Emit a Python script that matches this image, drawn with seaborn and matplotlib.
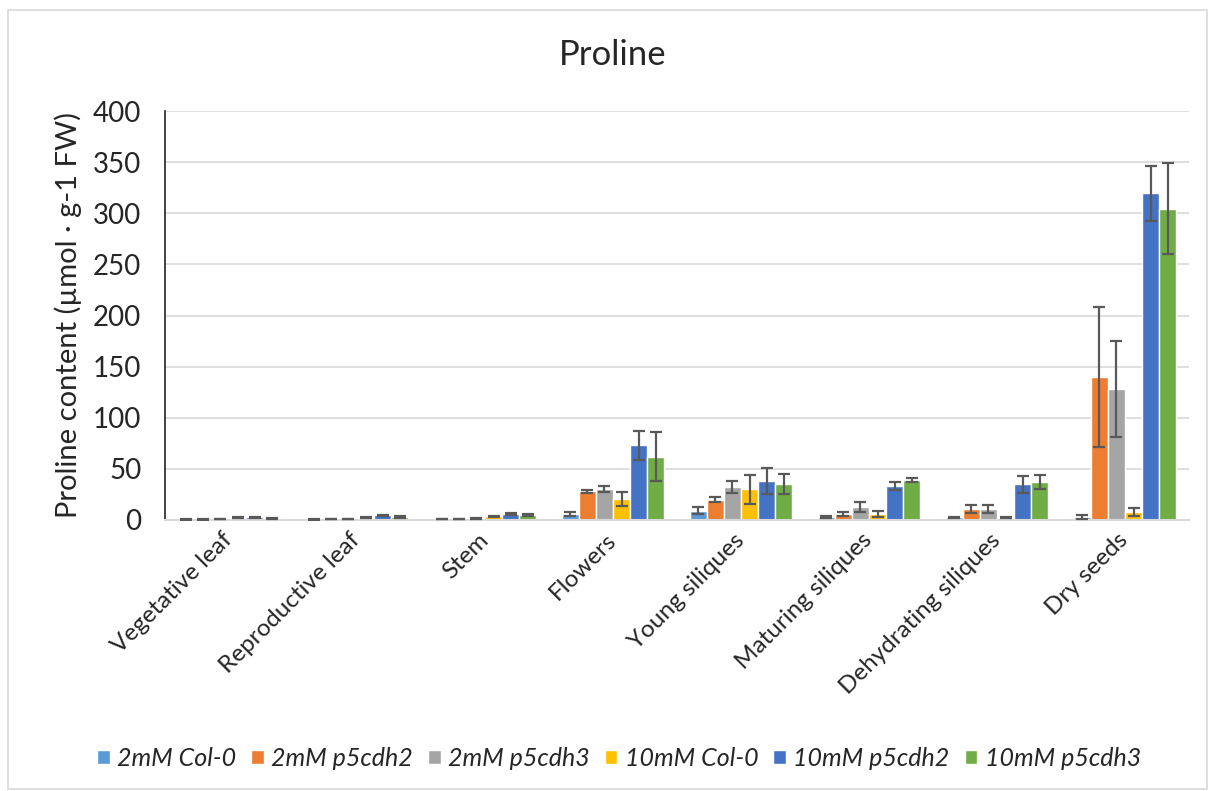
import pandas as pd
import seaborn as sns
import matplotlib.pyplot as plt
from matplotlib.patches import Rectangle

# Data
tissues = ['Vegetative leaf', 'Reproductive leaf', 'Stem', 'Flowers',
           'Young siliques', 'Maturing siliques', 'Dehydrating siliques', 'Dry seeds']
groups = ['2mM Col-0', '2mM p5cdh2', '2mM p5cdh3', '10mM Col-0', '10mM p5cdh2', '10mM p5cdh3']

col0_2 = [0.7, 0.7, 1.0, 6, 9, 2.6, 2.6, 3.3]
p5cdh2_2 = [0.7, 0.8, 1.0, 28, 20, 5.5, 10.5, 139.5]
p5cdh3_2 = [0.8, 0.9, 1.5, 30, 32.6, 13, 11, 127.8]
col0_10 = [2, 2, 3.5, 20.5, 30, 6, 2, 7.5]
p5cdh2_10 = [2.5, 4.5, 6, 73, 38, 33.2, 35, 319.5]
p5cdh3_10 = [1.5, 3, 4.5, 62, 35, 39, 37, 304.5]

col0_2_err = [0.3, 0.3, 0.3, 2, 3.5, 1, 0.5, 2]
p5cdh2_2_err = [0.3, 0.3, 0.3, 1.5, 2.5, 2, 4, 68.5]
p5cdh3_2_err = [0.3, 0.3, 0.4, 3, 6, 5, 4, 47]
col0_10_err = [0.5, 0.5, 0.7, 7, 14, 3, 0.5, 4]
p5cdh2_10_err = [0.7, 0.8, 1.2, 14, 12.5, 4, 8.5, 27]
p5cdh3_10_err = [0.5, 0.7, 1.0, 24, 9.5, 2, 7, 44.5]

colors = ['#5B9BD5', '#ED7D31', '#A5A5A5', '#FFC000', '#4472C4', '#70AD47']

values = [col0_2, p5cdh2_2, p5cdh3_2, col0_10, p5cdh2_10, p5cdh3_10]
errors = [col0_2_err, p5cdh2_2_err, p5cdh3_2_err, col0_10_err, p5cdh2_10_err, p5cdh3_10_err]

rows = []
for g, vals, errs in zip(groups, values, errors):
    for t, v, e in zip(tissues, vals, errs):
        rows.append({'Tissue': t, 'Group': g, 'Proline': v, 'Err': e})
df = pd.DataFrame(rows)

sns.set_style('white')
plt.rcParams['font.family'] = ['Lato', 'DejaVu Sans']

fig = plt.figure(figsize=(12.08, 7.91), dpi=100)
ax = fig.add_axes([165 / 1208, 1 - 520 / 791, (1189 - 165) / 1208, (520 - 111) / 791])

sns.barplot(data=df, x='Tissue', y='Proline', hue='Group', order=tissues,
            hue_order=groups, palette=colors, errorbar=None, width=0.8,
            saturation=1, edgecolor='white', linewidth=1, ax=ax)

# error bars at the bar centres
for cont, errs in zip(ax.containers, errors):
    xs = [p.get_x() + p.get_width() / 2 for p in cont.patches]
    hs = [p.get_height() for p in cont.patches]
    ax.errorbar(xs, hs, yerr=errs, fmt='none', ecolor='#595959',
                elinewidth=1.6, capsize=4.5, capthick=1.6, zorder=5)

ax.set_ylim(0, 400)
ax.set_xlim(-0.5, 7.5)
ax.set_yticks(range(0, 401, 50))
ax.yaxis.grid(True, color='#D9D9D9', linewidth=1.2)
ax.set_axisbelow(True)
for s in ['top', 'right']:
    ax.spines[s].set_visible(False)
ax.spines['left'].set_color('#222222')
ax.spines['left'].set_linewidth(1.2)
ax.spines['bottom'].set_color('#D9D9D9')
ax.spines['bottom'].set_linewidth(1.5)
ax.tick_params(axis='y', direction='in', length=6, width=1.2, color='#222222',
               labelsize=20, pad=17)
ax.tick_params(axis='x', length=0, labelsize=17.5, pad=12)
plt.setp(ax.get_xticklabels(), rotation=45, ha='right', va='center',
         rotation_mode='anchor')

ax.set_xlabel('')
ax.set_ylabel('Proline content (µmol · g-1 FW)', fontsize=21, labelpad=8)
fig.text(613 / 1208, 1 - 55 / 791, 'Proline', ha='center', va='center', fontsize=25)

handles, labels = ax.get_legend_handles_labels()
ax.get_legend().remove()
fig.legend(handles, labels, loc='center', bbox_to_anchor=(619 / 1208, 1 - 758 / 791),
           ncol=6, frameon=False, handlelength=0.5, handleheight=0.5,
           handletextpad=0.3, columnspacing=0.6, prop={'style': 'italic', 'size': 18})

fig.patches.append(Rectangle((8 / 1208, 0.002), 1 - 9 / 1208, 1 - 12 / 791,
                             transform=fig.transFigure, fill=False,
                             edgecolor='#D9D9D9', linewidth=1.2))

fig.savefig('out.png', dpi=100)
